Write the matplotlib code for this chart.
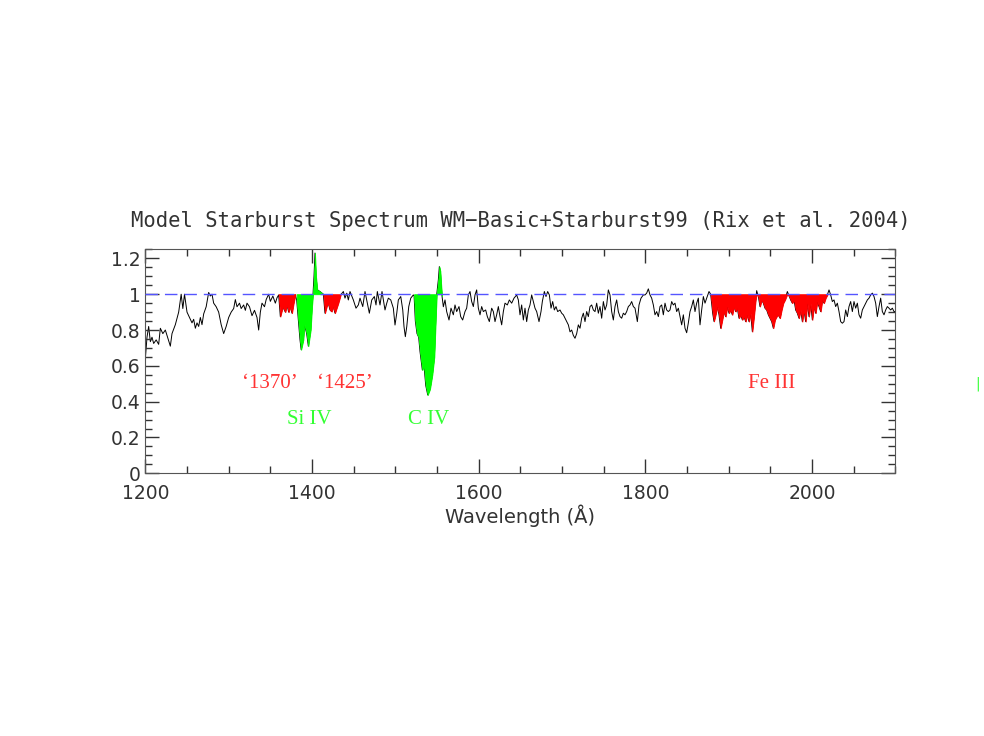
import numpy as np
from matplotlib import pyplot as plt
from matplotlib.ticker import MultipleLocator

# spectrum (wavelength in A, normalised flux)
wave = [1200, 1202, 1204, 1206, 1208, 1210, 1213, 1216, 1218, 1221, 1224, 1226, 1230, 1232, 1236,
        1240, 1243, 1245, 1247, 1250, 1253, 1256, 1258, 1260, 1262, 1264, 1266, 1268, 1270, 1273,
        1276, 1278, 1280, 1282, 1285, 1288, 1291, 1294, 1297, 1300, 1303, 1306, 1308, 1310, 1313,
        1315, 1318, 1320, 1322, 1325, 1328, 1331, 1334, 1336, 1338, 1340, 1343, 1345, 1348,
        1350, 1353, 1356, 1358, 1360,
        1362, 1365, 1368, 1370, 1372, 1374, 1376, 1378, 1380,
        1381.6, 1383.6, 1385.6, 1387, 1389.6, 1391, 1393.6, 1395.6, 1398.4, 1400, 1401.2, 1402.4,
        1403.6, 1404.8, 1406.4, 1409.6, 1413.6,
        1415.6, 1417.6, 1419.6, 1421.6, 1423.6, 1425.6, 1427.6, 1429.6, 1431.6, 1434.4,
        1437.6, 1439.6, 1441.7, 1443.6, 1445.6, 1449.6, 1452.8, 1455.6, 1457.6, 1460.9, 1463.6,
        1466.4, 1468.8, 1471.7, 1474.8, 1476.8, 1478.4, 1481.6, 1484, 1487.6, 1489.7, 1491.6,
        1494.5, 1497.6, 1499.6, 1501.7, 1503.6, 1506.5, 1508.9, 1510.4, 1512, 1513.7, 1516.1,
        1518.5, 1521.6,
        1522.5, 1524, 1526, 1528, 1529.6, 1532.4, 1534.4, 1536.5, 1538.9, 1541.6, 1544.4, 1546.8,
        1548.8, 1549.7, 1551.6, 1552.8, 1554, 1555.2, 1556,
        1557.6, 1559.6, 1561.6, 1564.4, 1566.8, 1569.6, 1571.6, 1573.6, 1576.4, 1578.4, 1580.8,
        1583.6, 1585.6, 1587.6, 1589.6, 1591.6, 1593.6, 1595.6, 1597.6, 1599.6, 1601.6, 1603.6,
        1605.6, 1608.4, 1610.4, 1612.8, 1615.6, 1617.6, 1619.6, 1621.6, 1623.6, 1625.6, 1627.6,
        1629.6, 1631.6, 1634.4, 1636.8, 1639.6, 1642.4, 1645.6, 1647.6,
        1649.6, 1651.6, 1653.6, 1655.6, 1657.6, 1659.6, 1661.6, 1663.6, 1665.6, 1667.6, 1669.6,
        1672.4, 1674.8, 1676.4, 1678.8, 1680.8, 1682.8, 1684.8, 1686.8, 1688.8, 1690.8, 1692.8,
        1694.8, 1697.6, 1699.6, 1701.6, 1703.6, 1705.6, 1707.6, 1709.6, 1711.6, 1713.6, 1715.6,
        1717.6, 1719.6, 1721.6, 1723.6, 1725.6, 1727.6, 1729.6, 1731.6, 1733.6, 1735.6, 1737.6,
        1739.6, 1741.6, 1743.6, 1745.6, 1747.6, 1749.6, 1751.6, 1753.6, 1755.6, 1757.6, 1759.6,
        1761.6, 1763.6, 1765.6, 1767.6, 1769.6, 1771.6, 1773.6, 1775.6, 1777.6, 1779.6, 1781.6,
        1783.6, 1785.6, 1787.6, 1790.4, 1792.4, 1794.8, 1797.6,
        1799.6, 1801.6, 1803.6, 1805.6, 1807.6, 1809.6, 1811.6, 1813.6, 1815.6, 1817.6, 1819.6,
        1821.6, 1823.6, 1825.6, 1827.6, 1829.6, 1831.6, 1833.6, 1835.6, 1837.6, 1839.6, 1841.6,
        1843.6, 1845.6, 1847.6, 1849.6, 1851.6, 1853.6, 1855.6, 1857.6, 1859.6, 1861.6, 1863.6,
        1865.6, 1867.6, 1869.6, 1871.6, 1873.6, 1876.4, 1878.4,
        1880.8, 1882.4, 1884.8, 1886.4, 1888.4, 1890.4, 1892.4, 1894.4, 1896.4, 1898.4, 1900.4,
        1902.4, 1904.4, 1906.4, 1908.4, 1910.4, 1912.4, 1914.4, 1916.4, 1918.4, 1920.4, 1922.4,
        1924.4, 1926.4, 1928.4, 1930.4, 1932.4, 1933.6, 1935.6, 1937.6, 1939.6, 1941.6, 1943.6,
        1945.6, 1947.6, 1949.6, 1951.6, 1953.6, 1955.6, 1957.6, 1959.6, 1961.6, 1963.6, 1965.6,
        1967.6, 1970.4, 1972.8, 1974.4, 1976.4, 1978.4, 1980.4, 1982.4, 1984.4, 1986.4, 1988.4,
        1990.4, 1992.4, 1994.4, 1996.4, 1998.4, 2000.4, 2002.4, 2004.4, 2006.4, 2008.4, 2010.4,
        2012.4, 2014.4, 2016.4, 2018.4, 2020.4,
        2022.4, 2024.4, 2026.4, 2028.4, 2030.4, 2032.4, 2034.4, 2036.4, 2038.4, 2040.4, 2042.4,
        2044.4, 2046.4, 2048.4, 2050.4, 2052.4, 2054.4, 2056.4, 2058.4, 2060.4, 2062.4, 2064.4,
        2066.4, 2068.4, 2070.4, 2072.4, 2074.4, 2076.4, 2078.4, 2080.4, 2082.4, 2084.4, 2086.4,
        2088.4, 2090.4, 2092.4, 2094.4, 2096.4, 2098.4, 2100]
flux = [0.64, 0.76, 0.82, 0.735, 0.76, 0.725, 0.745, 0.72, 0.81, 0.78, 0.80, 0.77, 0.71, 0.78, 0.83,
        0.90, 1.0, 0.92, 1.0, 0.90, 0.87, 0.84, 0.86, 0.81, 0.84, 0.82, 0.87, 0.83, 0.89, 0.93,
        1.01, 0.99, 1.0, 0.95, 0.93, 0.90, 0.83, 0.78, 0.82, 0.87, 0.90, 0.92, 0.97, 0.93, 0.95,
        0.92, 0.94, 0.91, 0.95, 0.93, 0.88, 0.91, 0.87, 0.80, 0.90, 0.95, 0.93, 0.97, 1.0,
        0.96, 0.99, 0.95, 0.98, 0.996,
        0.875, 0.93, 0.90, 0.94, 0.90, 0.93, 0.894, 0.95, 0.996,
        0.968, 0.856, 0.745, 0.69, 0.745, 0.83, 0.78, 0.71, 0.80, 0.93, 1.0, 1.10,
        1.23, 1.10, 1.024, 1.015, 1.0,
        0.894, 0.93, 0.95, 0.912, 0.903, 0.931, 0.894, 0.922, 0.95, 0.996,
        1.015, 0.978, 1.006, 0.968, 1.015, 0.968, 0.922, 0.94, 0.978, 0.931, 1.015,
        0.95, 0.894, 0.968, 0.987, 0.94, 1.015, 0.94, 1.015, 0.912, 0.95, 0.978,
        0.968, 0.922, 0.828, 0.894, 0.968, 0.987, 0.912, 0.819, 0.763, 0.819, 0.931,
        0.978, 0.996,
        0.99, 0.85, 0.78, 0.76, 0.68, 0.577, 0.60, 0.49, 0.437, 0.47, 0.55, 0.65,
        0.90, 1.0, 1.08, 1.154, 1.13, 1.04, 0.99,
        0.93, 0.968, 0.903, 0.856, 0.922, 0.885, 0.94, 0.903, 0.931, 0.875, 0.856,
        0.903, 0.922, 0.996, 1.015, 0.959, 0.931, 0.996, 1.024, 0.922, 0.885, 0.931,
        0.903, 0.912, 0.875, 0.847, 0.922, 0.903, 0.847, 0.885, 0.931, 0.875, 0.829,
        0.903, 0.95, 0.94, 0.968, 0.95, 0.978, 0.996, 0.968,
        0.885, 0.94, 0.856, 0.922, 0.847, 0.912, 0.94, 0.996, 0.959, 0.922, 0.903,
        0.847, 0.903, 0.959, 1.015, 0.987, 1.015, 0.996, 0.922, 0.959, 0.912, 0.931,
        0.903, 0.912, 0.894, 0.885, 0.866, 0.847, 0.829, 0.79, 0.80, 0.77, 0.754,
        0.78, 0.829, 0.81, 0.866, 0.894, 0.847, 0.903, 0.875, 0.931, 0.94, 0.912,
        0.903, 0.95, 0.894, 0.931, 0.866, 0.959, 0.912, 0.94, 1.024, 0.996, 0.903,
        0.856, 0.931, 0.968, 0.903, 0.875, 0.866, 0.894, 0.885, 0.903, 0.931, 0.94,
        0.959, 0.931, 0.922, 0.847, 0.94, 0.978, 0.996,
        0.996, 1.006, 1.03, 0.996, 0.978, 0.94, 0.885, 0.903, 0.875, 0.931, 0.94,
        0.885, 0.95, 0.912, 0.903, 0.912, 0.959, 0.94, 0.95, 0.903, 0.922, 0.875,
        0.829, 0.885, 0.81, 0.785, 0.84, 0.903, 0.931, 0.968, 0.903, 0.95, 0.978,
        0.829, 0.912, 0.987, 0.95, 0.978, 1.015, 1.0,
        0.894, 0.848, 0.894, 0.931, 0.885, 0.81, 0.857, 0.903, 0.875, 0.931, 0.894,
        0.912, 0.885, 0.931, 0.903, 0.922, 0.866, 0.885, 0.857, 0.875, 0.847, 0.885,
        0.847, 0.894, 0.791, 0.875, 0.968, 1.02, 0.987, 0.931, 0.968, 0.95, 0.922,
        0.912, 0.885, 0.866, 0.847, 0.81, 0.857, 0.875, 0.885, 0.866, 0.912, 0.95,
        0.968, 1.015, 0.987, 0.968, 0.95, 0.968, 0.912, 0.894, 0.866, 0.912, 0.847,
        0.912, 0.847, 0.95, 0.875, 0.95, 0.857, 0.931, 0.894, 0.959, 0.931, 0.903,
        0.968, 0.95, 0.978, 0.996, 1.024,
        0.996, 0.959, 0.968, 0.931, 0.95, 0.903, 0.847, 0.838, 0.847, 0.912, 0.875,
        0.931, 0.959, 0.903, 0.959, 0.922, 0.95, 0.885, 0.866, 0.912, 0.931, 0.95,
        0.968, 0.978, 0.996, 1.006, 0.987, 0.95, 0.875, 0.931, 0.978, 0.903, 0.885,
        0.912, 0.931, 0.922, 0.912, 0.922, 0.903, 0.903]

# absorption windows that get shaded
red_bands = [(1360, 1380.5), (1413.6, 1434.5), (1878.4, 2019.6)]
green_bands = [(1380.5, 1413.6), (1522.4, 1556.5)]

labels = [("‘1370’", 1349.6, 0.50, "#ff3333"), ("‘1425’", 1439.6, 0.50, "#ff3333"),
          ("Fe III", 1951, 0.50, "#ff3333"), ("Si IV", 1396.4, 0.30, "#33ff33"),
          ("C IV", 1539.4, 0.30, "#33ff33")]

wave = np.array(wave)
flux = np.array(flux)

fig = plt.figure(figsize=(9.84, 7.36), dpi=100)
ax = fig.add_axes([0.1477, 0.3569, 0.7622, 0.3042])

ax.plot(wave, flux, color="black", lw=0.7, zorder=1)

# shading goes over the line, as in the original
for lo, hi in red_bands:
    m = (wave >= lo) & (wave <= hi)
    ax.fill_between(wave, np.minimum(flux, 1), 1, where=m, color="#ff0000", lw=0.6,
                    edgecolor="#ff0000", zorder=2)
for lo, hi in green_bands:
    m = (wave >= lo) & (wave <= hi)
    ax.fill_between(wave, flux, 1, where=m, color="#00ff00", lw=0.6,
                    edgecolor="#00ff00", zorder=2)

ax.axhline(1.0, color="#5555ff", lw=1, linestyle=(0, (9, 5)), zorder=3)

for txt, x, y, c in labels:
    ax.text(x, y, txt, color=c, fontsize=15, family="Liberation Serif", ha="center", va="center")

ax.set_xlim(1200, 2100)
ax.set_ylim(0, 1.25)
ax.xaxis.set_major_locator(MultipleLocator(200))
ax.xaxis.set_minor_locator(MultipleLocator(50))
ax.yaxis.set_major_locator(MultipleLocator(0.2))
ax.yaxis.set_minor_locator(MultipleLocator(0.05))
ax.set_yticks([0, 0.2, 0.4, 0.6, 0.8, 1.0, 1.2], ["0", "0.2", "0.4", "0.6", "0.8", "1", "1.2"])
ax.tick_params(which="both", direction="in", top=True, right=True, colors="#333333",
               labelsize=13.5, width=1)
ax.tick_params(which="major", length=10)
ax.tick_params(which="minor", length=5)
ax.tick_params(axis="x", which="major", pad=8)
for s in ax.spines.values():
    s.set_color("#555555")

ax.set_xlabel("Wavelength (Å)", fontsize=14, color="#333333", labelpad=1)
ax.set_title("Model Starburst Spectrum WM\u2212Basic+Starburst99 (Rix et al. 2004)",
             fontsize=14.8, color="#333333", family="DejaVu Sans Mono", pad=16)

fig.text(978 / 984, 1 - 384 / 736, "|", color="#33ff33", fontsize=10, ha="center", va="center")

fig.savefig("out.png", dpi=100)
